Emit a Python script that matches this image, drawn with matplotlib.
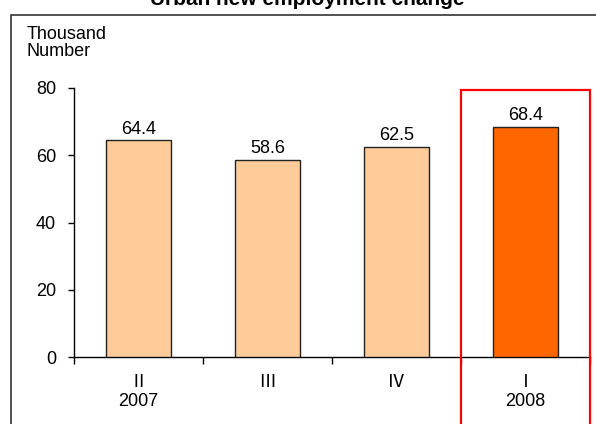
import matplotlib.pyplot as plt
from matplotlib.patches import Rectangle

# data
quarters = ['Ⅱ\n2007', 'Ⅲ', 'Ⅳ', 'Ⅰ\n2008']
values = [64.4, 58.6, 62.5, 68.4]
bar_colors = ['#FFCC99', '#FFCC99', '#FFCC99', '#FF6600']

plt.rcParams['font.family'] = ['Liberation Sans', 'Noto Sans CJK SC', 'DejaVu Sans']

W, H = 596, 424
fig = plt.figure(figsize=(W / 100, H / 100), dpi=100)
ax = fig.add_axes([74 / W, 1 - 357 / H, (590 - 74) / W, (357 - 88) / H])

x = list(range(len(values)))
ax.bar(x, values, width=0.5, color=bar_colors, edgecolor='#222222', linewidth=1.0, zorder=3)

for xi, v in zip(x, values):
    ax.text(xi, v + 0.8, f'{v:.1f}', ha='center', va='bottom', fontsize=13)

ax.set_xlim(-0.5, 3.5)
ax.set_ylim(0, 80)
ax.set_yticks([0, 20, 40, 60, 80])
ax.tick_params(axis='y', length=4, width=1, pad=9, labelsize=13, direction='out')

ax.set_xticks(x)
ax.set_xticklabels(quarters, fontsize=13, linespacing=1.15)
ax.tick_params(axis='x', which='major', length=0, pad=12)
ax.set_xticks([-0.5, 0.5, 1.5, 2.5, 3.5], minor=True)
ax.tick_params(axis='x', which='minor', length=5, width=1, direction='out')

for s in ['top', 'right']:
    ax.spines[s].set_visible(False)
for s in ['left', 'bottom']:
    ax.spines[s].set_linewidth(1.0)

# red highlight box around the latest quarter
ax.add_patch(Rectangle((2.5, -40), 1.0, 79.3 + 40, fill=False, edgecolor='#FF0000',
                       linewidth=1.6, clip_on=False, zorder=5))

# outer chart frame
fig.patches.append(Rectangle((11 / W, -0.1), 1.2, 1 - 15 / H + 0.1, fill=False,
                             edgecolor='#333333', linewidth=1.2,
                             transform=fig.transFigure, figure=fig))

fig.text(27 / W, 1 - 26 / H, 'Thousand\nNumber', ha='left', va='top', fontsize=13,
         linespacing=1.0)

# title, cut off at the top edge as in the source image
fig.text(307 / W, 1 - 5 / H, 'Urban new employment change', ha='center', va='baseline',
         fontsize=15, fontweight='bold')

fig.savefig('out.png', dpi=100)
